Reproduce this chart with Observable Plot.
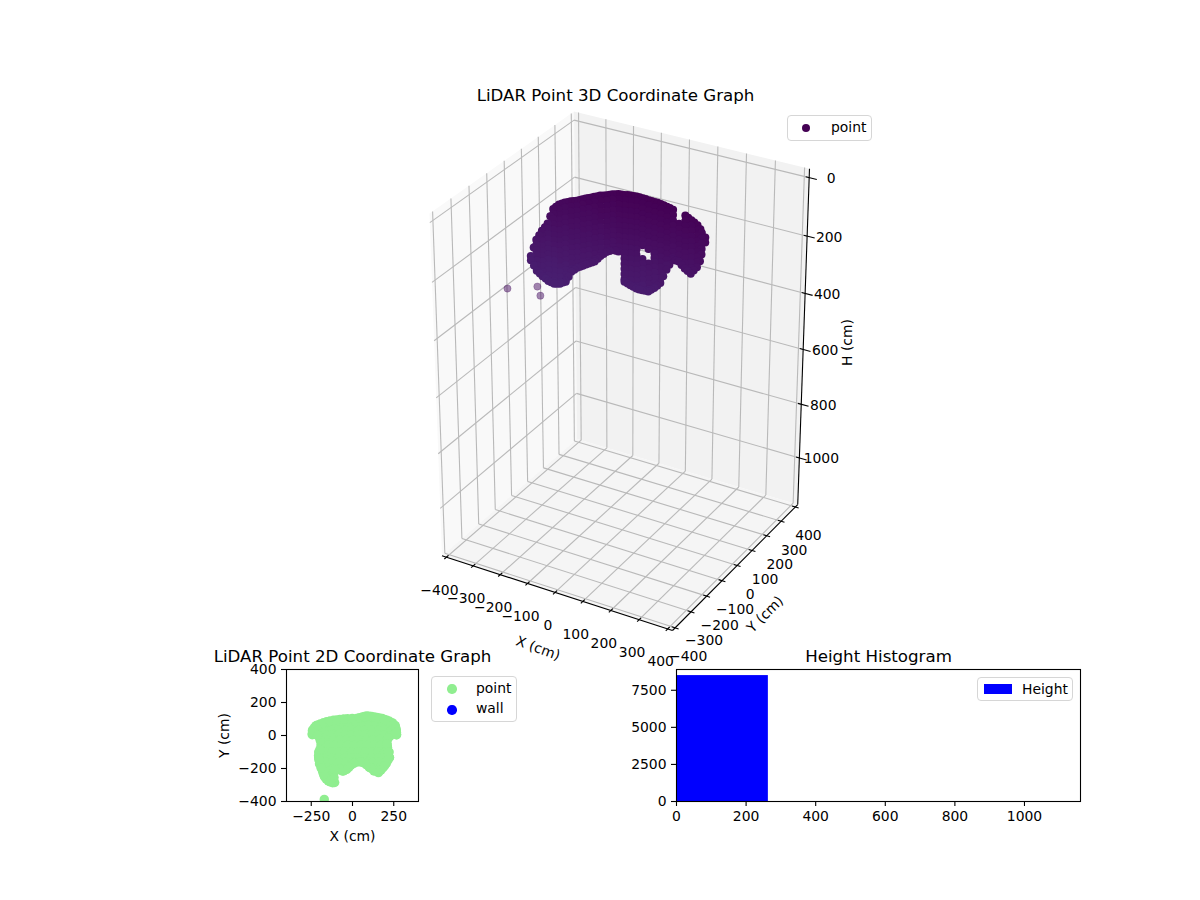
<!DOCTYPE html>
<html>
<head>
<meta charset="utf-8">
<script src="https://cdn.jsdelivr.net/npm/d3@7"></script>
<script src="https://cdn.jsdelivr.net/npm/@observablehq/plot@0.6"></script>
<style>
html,body{margin:0;padding:0;background:#fff;overflow:hidden}
#chart{position:relative;width:1200px;height:900px;font-family:"DejaVu Sans",sans-serif;font-size:13.9px;color:#000}
.legend{position:absolute;box-sizing:border-box;background:#fff;border:1.1px solid #d6d6d6;border-radius:4px}
.legend span{position:absolute;line-height:16px;white-space:nowrap}
.legend i{position:absolute;display:block}
</style>
</head>
<body>
<div id="chart"></div>
<script>
// ---------- data ----------
const xTicks3d = [-400,-300,-200,-100,0,100,200,300,400];
const yTicks3d = [-400,-300,-200,-100,0,100,200,300,400];
const hTicks3d = [0,200,400,600,800,1000];
const xyLimit = 416.7;
const hLimits = [-30,1177];

// 3D cloud: one list of heights per x position
const cloudX = [-358,-337,-316,-295,-274,-253,-232,-211,-190,-169,-148,-127,-106,-84,-63,-42,-21,0,21,42,63,84,105,126,147,168,189,210,231,246,258];
const cloudY = 50;
const cloudH = [
 [305,320],
 [243,261,279,297,315,333,351],
 [206,224,242,260,278,296,314,332,350,365],
 [176,194,212,230,248,266,284,302,320,338,356,376],
 [120,138,156,174,192,210,228,246,264,282,300,318,336,354,372,381],
 [100,118,136,154,172,190,208,226,244,262,280,298,316,334,352,370,375],
 [88,106,124,142,160,178,196,214,232,250,268,286,304,322,340,358,362],
 [78,96,114,132,150,168,186,204,222,240,258,276,294,312,322],
 [71,89,107,125,143,161,179,197,215,233,251,269,287,302],
 [61,79,97,115,133,151,169,187,205,223,241,259,277,290],
 [52,70,88,106,124,142,160,178,196,214,232,250,268,277],
 [42,60,78,96,114,132,150,168,186,204,222,240,258,264],
 [33,51,69,87,105,123,141,159,177,195,213,231,240],
 [27,45,63,81,99,117,135,153,171,189,207,220],
 [18,36,54,72,90,108,126,144,162,180,198,208],
 [12,30,48,66,84,102,120,138,156,174,192,208],
 [10,28,46,64,82,100,118,136,154,172,190,208,226,244,262,280,298,307],
 [7,25,43,61,79,97,115,133,151,169,187,205,223,241,259,277,295,313],
 [5,23,41,59,77,95,113,131,149,167,185,203,221,239,257,275,293,311,319],
 [6,24,42,60,78,96,114,132,150,165,212,230,248,266,284,302,320],
 [7,25,43,61,79,97,115,133,151,172,222,240,258,276,294,312,318],
 [8,26,44,62,80,98,116,134,152,170,182,197,212,230,248,266,284,301],
 [9,27,45,63,81,99,117,135,153,171,189,207,225,243,261,278],
 [13,31,49,67,85,103,121,139,157,175,193,211,227],
 [18,36,54,72,90,108,126,144,162,180,187],
 [60,78,96,114,132,150,168,188],
 [27,45,63,81,99,117,135,153,171,189,206],
 [38,56,74,92,110,128,146,164,182,200,218],
 [49,67,85,103,121,139,157,175,191],
 [71,89,107,125,144],
 [83,100]
];
// 3D cloud: extra points along its upper and lower edge
const edgeX = [-347,-326,-305,-285,-264,-242,-221,-200,-179,-158,-137,-116,-95,-73,-52,-31,-10,10,31,52,73,94,115,136,199,220,241,
               -347,-326,-305,-285,-264,-242,-221,-200,-179,-158,-137,-116,-95,-73,-52,-10,10,31,52,73,94,115,136,157,178,199,220,241];
const edgeH = [272,224,191,148,110,94,83,75,66,56,47,38,30,22,15,11,8,6,5,6,7,8,11,15,32,43,60,
               335,358,370,378,378,368,342,312,296,283,270,252,230,214,208,310,316,320,319,310,290,252,207,187,197,212,205,168];
const strayX = [-170,-100,-90];
const strayY = [-385,-330,-330];
const strayH = [170,170,198];

// 2D footprint: one list of x values per y row
const flatY = [90,60,30,5,-25,-60,-100,-135,-160,-195,-215,-250,-387];
const flatX = [
 [-80,-40,0,40,80,120,160,205],
 [-218,-180,-140,-100,-60,-20,20,60,100,140,180,220,258],
 [-243,-205,-165,-125,-85,-45,-5,35,75,115,155,195,235,265],
 [-244,-205,-165,-125,-85,-45,-5,35,75,115,155,195,235,267],
 [-195,-155,-115,-75,-35,5,45,85,125,165,208],
 [-190,-150,-110,-70,-30,10,50,90,130,170,210],
 [-205,-165,-125,-85,-45,-5,35,75,115,155,195,222],
 [-205,-165,-125,-85,-45,-5,35,75,115,155,195,224],
 [-195,-160,-120,-80,-40,0,25,55,90,125,160,205],
 [-188,-150,-110,-70,-40,105,140,170],
 [-175,-140,-105,-55,130,160],
 [-155,-125],
 [-171]
];
// 2D footprint: points along the rim
const rimX = [-244,-240,-222,-195,-157,-115,-76,-30,25,60,86,115,147,180,208,240,258,265,267,228,208,212,224,205,185,157,128,100,66,25,-10,-35,-62,-95,-115,-108,-120,-147,-170,-180,-200,-206,-190,-200,-225,
              -242,-232,-210,-176,-136,-95,-53,-2,42,73,100,131,163,194,224,250,262,266,218,210,218,215,195,172,142,114,83,45,8,-22,-48,-80,-105,-112,-134,-160,-175,-190,-204,-198,-195,-212];
const rimY = [10,35,58,70,83,92,98,102,104,112,118,115,110,103,93,78,58,35,5,-2,-30,-71,-132,-170,-195,-225,-205,-190,-164,-160,-180,-205,-215,-195,-225,-285,-286,-276,-250,-223,-172,-122,-51,-10,8,
              22,47,64,77,88,95,100,103,108,115,117,113,107,98,86,68,47,20,-15,-50,-100,-150,-183,-210,-215,-198,-177,-160,-170,-193,-210,-205,-210,-255,-282,-263,-237,-198,-147,-85,-30,0];
const xTicks2d = [-250,0,250];
const yTicks2d = [-400,-200,0,200,400];

// histogram
const histStart = [0];
const histEnd = [264];
const histCount = [8490];
const histXTicks = [0,200,400,600,800,1000];
const histYTicks = [0,2500,5000,7500];

// ---------- matplotlib-like 3D projection ----------
const boxB = 0.888, boxC = 1.316, dist = 10;
const U = [0.866,0.5,0], V = [-0.25,0.433,0.866], W = [0.433,-0.75,0.5];
function project(x,y,h){
  const px = x/(2*xyLimit)*boxB;
  const py = y/(2*xyLimit)*boxB;
  const pz = ((hLimits[0]+hLimits[1])/2-h)/(hLimits[1]-hLimits[0])*boxC;
  const dot = a => a[0]*px+a[1]*py+a[2]*pz;
  const d = dist-dot(W);
  return {X:dot(U)/d, Y:dot(V)/d};
}
const L = xyLimit, hTop = hLimits[0], hBot = hLimits[1];
const P = (x,y,h)=>project(x,y,h);
const seg = (a,b)=>{const p=P(...a),q=P(...b);return {x1:p.X,y1:p.Y,x2:q.X,y2:q.Y};};
const poly = pts=>pts.map(a=>P(...a));

const leftPane = poly([[-L,-L,hBot],[-L,L,hBot],[-L,L,hTop],[-L,-L,hTop],[-L,-L,hBot]]);
const backPane = poly([[-L,L,hBot],[L,L,hBot],[L,L,hTop],[-L,L,hTop],[-L,L,hBot]]);
const floorPane = poly([[-L,-L,hBot],[L,-L,hBot],[L,L,hBot],[-L,L,hBot],[-L,-L,hBot]]);

const grid = [];
xTicks3d.forEach(x=>{grid.push(seg([x,-L,hBot],[x,L,hBot]));grid.push(seg([x,L,hBot],[x,L,hTop]));});
yTicks3d.forEach(y=>{grid.push(seg([-L,y,hBot],[L,y,hBot]));grid.push(seg([-L,y,hBot],[-L,y,hTop]));});
hTicks3d.forEach(h=>{grid.push(seg([-L,-L,h],[-L,L,h]));grid.push(seg([-L,L,h],[L,L,h]));});

const spines = [seg([-L,-L,hBot],[L,-L,hBot]),seg([L,-L,hBot],[L,L,hBot]),seg([L,L,hBot],[L,L,hTop])];
const ticks = [
 ...xTicks3d.map(x=>seg([x,-L+12,hBot],[x,-L-12,hBot])),
 ...yTicks3d.map(y=>seg([L-12,y,hBot],[L+12,y,hBot])),
 ...hTicks3d.map(h=>seg([L-12,L,h],[L+26,L,h]))
];
const cloud = [];
cloudX.forEach((x,i)=>cloudH[i].forEach(h=>{const p=P(x,cloudY,h);cloud.push({X:p.X,Y:p.Y,h});}));
edgeX.forEach((x,i)=>{const p=P(x,cloudY,edgeH[i]);cloud.push({X:p.X,Y:p.Y,h:edgeH[i]});});
cloud.sort((a,b)=>a.h-b.h);
const stray = strayX.map((x,i)=>{const p=P(x,strayY[i],strayH[i]);return {X:p.X,Y:p.Y,h:strayH[i]};});

const minus = d=>String(d).replace("-","\u2212");
const xTickPos = xTicks3d.map(x=>({...P(x,-L,hBot),t:minus(x)}));
const yTickPos = yTicks3d.map(y=>({...P(L,y,hBot),t:minus(y)}));
const hTickPos = hTicks3d.map(h=>({...P(L,L,h),t:String(h)}));

const xRange = [P(-L,-L,hTop).X,P(L,L,hTop).X];
const yRange = [P(-L,L,hTop).Y,P(L,-L,hBot).Y];

const baseStyle = {position:"absolute",left:"0",top:"0",background:"transparent",fontFamily:"'DejaVu Sans',sans-serif",fontSize:"13.9px",color:"#000",overflow:"visible"};
const TITLE = 16.67;

const plot3d = Plot.plot({
  width:1200,height:900,margin:0,style:baseStyle,
  x:{domain:xRange,range:[429,809],axis:null},
  y:{domain:yRange,range:[111,630],axis:null},
  color:{type:"linear",scheme:"viridis",domain:[0,4500]},
  marks:[
    Plot.line(leftPane,{x:"X",y:"Y",fill:"#f9f9f9",stroke:"none"}),
    Plot.line(backPane,{x:"X",y:"Y",fill:"#f2f2f2",stroke:"none"}),
    Plot.line(floorPane,{x:"X",y:"Y",fill:"#f5f5f5",stroke:"none"}),
    Plot.link(grid,{x1:"x1",y1:"y1",x2:"x2",y2:"y2",stroke:"#b9b9b9",strokeWidth:1.1}),
    Plot.link(spines,{x1:"x1",y1:"y1",x2:"x2",y2:"y2",stroke:"#000",strokeWidth:1.1}),
    Plot.link(ticks,{x1:"x1",y1:"y1",x2:"x2",y2:"y2",stroke:"#000",strokeWidth:1.1}),
    Plot.dot(stray,{x:"X",y:"Y",r:3.6,fill:"h",fillOpacity:0.5,stroke:"h",strokeOpacity:0.5,strokeWidth:0.5}),
    Plot.dot(cloud,{x:"X",y:"Y",r:4,fill:"h",stroke:"none"}),
    Plot.text(xTickPos,{x:"X",y:"Y",text:"t",dx:-7,dy:33}),
    Plot.text(yTickPos,{x:"X",y:"Y",text:"t",dx:13,dy:29}),
    Plot.text(hTickPos,{x:"X",y:"Y",text:"t",dx:22,dy:1}),
    Plot.text([P(0,-L,hBot)],{x:"X",y:"Y",text:()=>"X (cm)",dx:-17,dy:56,rotate:20}),
    Plot.text([P(0+L,0,hBot)],{x:"X",y:"Y",text:()=>"Y (cm)",dx:28,dy:49,rotate:-45}),
    Plot.text([P(L,L,575)],{x:"X",y:"Y",text:()=>"H (cm)",dx:44,rotate:-90}),
    Plot.text(["LiDAR Point 3D Coordinate Graph"],{frameAnchor:"top-left",textAnchor:"middle",lineAnchor:"middle",dx:615,dy:95,fontSize:TITLE,text:d=>d})
  ]
});

const flat = [];
flatY.forEach((y,i)=>flatX[i].forEach(x=>flat.push({x,y})));
rimX.forEach((x,i)=>flat.push({x,y:rimY[i]}));

const plot2d = Plot.plot({
  width:1200,height:900,marginLeft:286,marginRight:782,marginTop:669,marginBottom:99,style:baseStyle,
  x:{domain:[-400,400]},y:{domain:[-400,400]},
  marks:[
    Plot.dot(flat,{x:"x",y:"y",r:4.7,fill:"#90ee90",clip:true}),
    Plot.frame({stroke:"#000",strokeWidth:1.1}),
    Plot.axisX({ticks:xTicks2d,tickFormat:minus,tickSize:5,tickPadding:5,label:"X (cm)",labelAnchor:"center",labelArrow:"none",labelOffset:39,strokeWidth:1.1}),
    Plot.axisY({ticks:yTicks2d,tickFormat:minus,tickSize:5,tickPadding:5,label:"Y (cm)",labelAnchor:"center",labelArrow:"none",labelOffset:67,strokeWidth:1.1}),
    Plot.text(["LiDAR Point 2D Coordinate Graph"],{frameAnchor:"top",lineAnchor:"bottom",dy:-8,fontSize:TITLE,text:d=>d})
  ]
});

const plotHist = Plot.plot({
  width:1200,height:900,marginLeft:676,marginRight:120,marginTop:669,marginBottom:99,style:baseStyle,
  x:{domain:[0,1161]},y:{domain:[0,8900]},
  marks:[
    Plot.rectY(histCount,{x1:(d,i)=>histStart[i],x2:(d,i)=>histEnd[i],y1:0,y2:d=>d,fill:"#0000ff",inset:0}),
    Plot.frame({stroke:"#000",strokeWidth:1.1}),
    Plot.axisX({ticks:histXTicks,tickFormat:d=>String(d),tickSize:5,tickPadding:5,label:null,strokeWidth:1.1}),
    Plot.axisY({ticks:histYTicks,tickFormat:d=>String(d),tickSize:5,tickPadding:5,label:null,strokeWidth:1.1}),
    Plot.text(["Height Histogram"],{frameAnchor:"top",lineAnchor:"bottom",dy:-8,fontSize:TITLE,text:d=>d})
  ]
});

const chart = document.getElementById("chart");
chart.append(plot3d,plot2d,plotHist);

// legends
function legend(box,items){
  const el=document.createElement("div");
  el.className="legend";
  Object.assign(el.style,{left:box[0]+"px",top:box[1]+"px",width:box[2]+"px",height:box[3]+"px"});
  items.forEach(it=>{
    const m=document.createElement("i");
    Object.assign(m.style,it.mark);
    const t=document.createElement("span");
    t.textContent=it.text;
    Object.assign(t.style,{left:it.tx+"px",top:it.ty+"px"});
    el.append(m,t);
  });
  chart.append(el);
}
const circle=(cx,cy,r,c)=>({left:(cx-r)+"px",top:(cy-r)+"px",width:2*r+"px",height:2*r+"px",borderRadius:"50%",background:c});
legend([787,115,85,26],[{text:"point",tx:43,ty:3,mark:circle(18,12,4,"#440154")}]);
legend([431,676,86,46],[
  {text:"point",tx:44,ty:3,mark:circle(20,12,4.7,"#90ee90")},
  {text:"wall",tx:44,ty:23,mark:circle(20,33,4.7,"#0000ff")}
]);
legend([977,677,96,24],[{text:"Height",tx:44,ty:3,mark:{left:"5.5px",top:"5.5px",width:"28px",height:"10px",background:"#0000ff"}}]);
</script>
</body>
</html>
